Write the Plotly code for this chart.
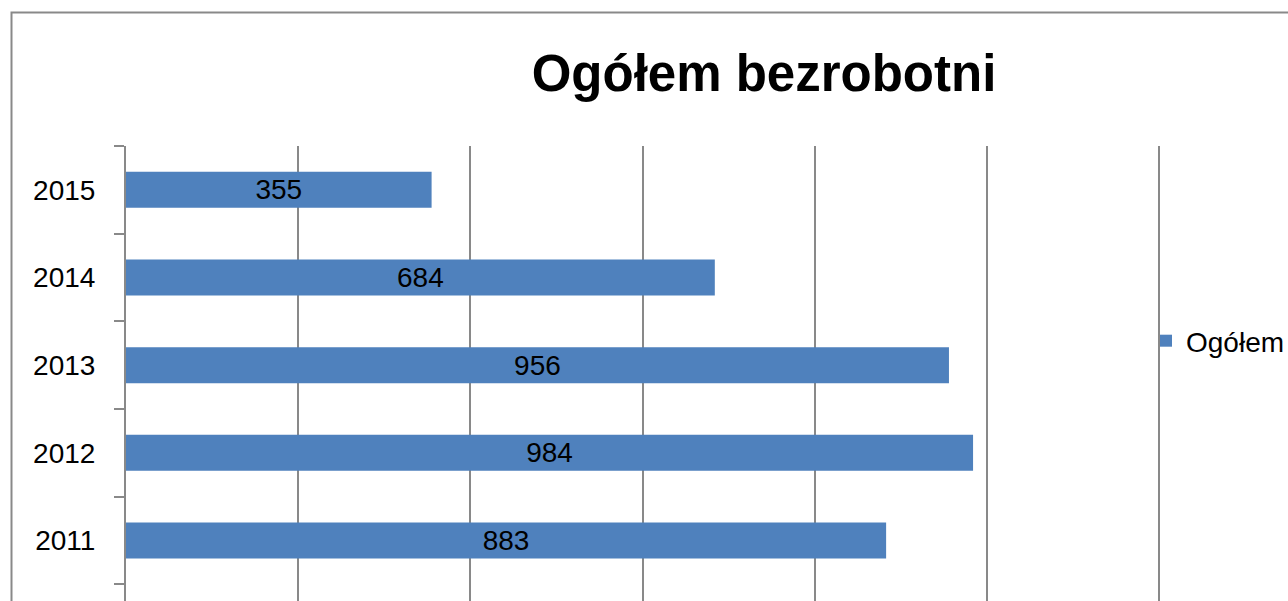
import plotly.graph_objects as go

# Data
years = ["2011", "2012", "2013", "2014", "2015"]
values = [883, 984, 956, 684, 355]
series_name = "Ogółem"
title_text = "Ogółem bezrobotni"
x_max_grid = 1200
x_step = 200

W, H = 1288, 601
ML, MR, MT, MB = 126, 108, 146, 0
PW, PH = W - ML - MR, H - MT - MB
GRID_RIGHT_PX = 1159  # where the last gridline sits
x_range_max = x_max_grid * PW / (GRID_RIGHT_PX - ML)

GRAY = "#898989"
BLUE = "#4F81BD"
FONT = "Liberation Sans"

fig = go.Figure()
fig.add_trace(go.Bar(
    y=years, x=values, orientation="h", name=series_name,
    marker=dict(color=BLUE, line=dict(width=0)),
    width=0.41,
    text=[str(v) for v in values],
    textposition="inside", insidetextanchor="middle",
    textfont=dict(family=FONT, size=28, color="black"),
    constraintext="none",
    showlegend=True,
))

# chart border (decoration)
fig.add_shape(type="rect", xref="paper", yref="paper",
              x0=(11.5 - ML) / PW, x1=(W + 20 - ML) / PW,
              y0=-0.2, y1=(H - 12.5 - MB) / PH,
              line=dict(color=GRAY, width=2), fillcolor="rgba(0,0,0,0)", layer="below")

fig.update_layout(
    width=W, height=H,
    margin=dict(l=ML, r=MR, t=MT, b=MB, autoexpand=False),
    paper_bgcolor="white", plot_bgcolor="white",
    font=dict(family=FONT, size=28, color="black"),
    title=dict(text=title_text, x=764 / W, xref="container", xanchor="center",
               y=1 - 73 / H, yref="container", yanchor="middle",
               font=dict(family=FONT, size=51, color="black", weight="bold")),
    legend=dict(x=1146 / W, xref="container", xanchor="left",
                y=1 - 341 / H, yref="container", yanchor="middle",
                font=dict(family=FONT, size=28, color="black"),
                bgcolor="rgba(0,0,0,0)", borderwidth=0),
    bargap=0.59,
)
fig.update_xaxes(range=[0, x_range_max], dtick=x_step, tick0=0, showgrid=True,
                 gridcolor=GRAY, gridwidth=2, showticklabels=False, ticks="",
                 zeroline=False, showline=False, fixedrange=True)
fig.update_yaxes(type="category", categoryorder="array", categoryarray=years,
                 range=[-0.69, 4.5], tickson="boundaries", ticks="outside",
                 ticklen=10, tickwidth=2, tickcolor=GRAY,
                 showline=True, linecolor=GRAY, linewidth=2,
                 showgrid=False, zeroline=False, ticklabelstandoff=23,
                 tickfont=dict(family=FONT, size=28, color="black"))

fig.write_html("out.html", config={"displayModeBar": False},
               post_script="document.body.style.margin='0';document.body.style.padding='0';")
